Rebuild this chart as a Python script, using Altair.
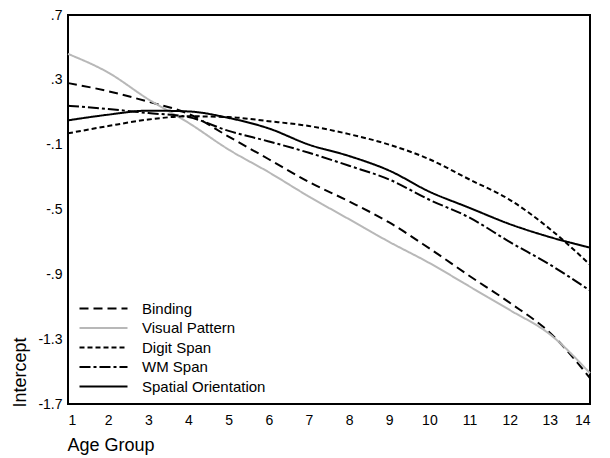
import altair as alt
import pandas as pd

age = list(range(1, 15))
series_names = ["Binding", "Visual Pattern", "Digit Span", "WM Span", "Spatial Orientation"]
binding = [0.28, 0.23, 0.165, 0.09, -0.05, -0.19, -0.33, -0.45, -0.58, -0.74, -0.91, -1.075, -1.26, -1.54]
visual = [0.46, 0.345, 0.18, 0.035, -0.13, -0.27, -0.42, -0.56, -0.70, -0.83, -0.975, -1.12, -1.27, -1.51]
digit = [-0.03, 0.015, 0.055, 0.075, 0.07, 0.045, 0.015, -0.035, -0.10, -0.19, -0.315, -0.44, -0.62, -0.84]
wm = [0.14, 0.12, 0.095, 0.07, -0.015, -0.08, -0.15, -0.23, -0.315, -0.44, -0.55, -0.70, -0.84, -1.0]
spatial = [0.05, 0.085, 0.11, 0.105, 0.065, 0.0, -0.10, -0.17, -0.26, -0.39, -0.49, -0.59, -0.67, -0.735]
y_ticks = [0.7, 0.3, -0.1, -0.5, -0.9, -1.3, -1.7]

colors = ["#000000", "#b8b8b8", "#000000", "#000000", "#000000"]
dashes = [[9, 5], [1, 0], [5, 3], [11, 3, 3, 3], [1, 0]]

rows = []
for name, vals in zip(series_names, [binding, visual, digit, wm, spatial]):
    for a, v in zip(age, vals):
        rows.append({"Age": a, "Intercept": v, "Series": name})
df = pd.DataFrame(rows)

FONT = "Liberation Sans"

leg = alt.Legend(
    title=None, orient="none", legendX=7, legendY=286,
    symbolType="M-1,0H15", symbolSize=36, symbolStrokeWidth=2,
    labelFontSize=15, labelFont=FONT, labelColor="#000000", labelOffset=52,
    rowPadding=3.5, padding=0,
)

chart = alt.Chart(df).mark_line(interpolate="monotone", strokeWidth=2).encode(
    x=alt.X("Age:Q", scale=alt.Scale(domain=[1, 14], nice=False, zero=False),
            axis=alt.Axis(values=age, title="Age Group", ticks=False, domain=False, grid=False,
                          labelFontSize=14, labelPadding=9, labelFont=FONT, labelColor="#000000",
                          titleFontSize=18, titleFont=FONT, titleFontWeight="normal", titleColor="#000000",
                          titleAnchor="start", titleAlign="left", titleX=-1, titleY=41,
                          titleBaseline="middle")),
    y=alt.Y("Intercept:Q", scale=alt.Scale(domain=[-1.7, 0.7], nice=False, zero=False),
            axis=alt.Axis(values=y_ticks, title="Intercept", ticks=False, domain=False, grid=False,
                          labelExpr="replace(datum.value + '', '0.', '.')",
                          labelFontSize=14, labelPadding=6, labelFont=FONT, labelColor="#000000",
                          titleFontSize=18, titleFont=FONT, titleFontWeight="normal", titleColor="#000000",
                          titleAngle=270, titleAlign="left", titleBaseline="middle",
                          titleX=-48, titleY=392)),
    color=alt.Color("Series:N", scale=alt.Scale(domain=series_names, range=colors), legend=leg),
    strokeDash=alt.StrokeDash("Series:N", scale=alt.Scale(domain=series_names, range=dashes), legend=leg),
).properties(
    width=522, height=389,
    autosize=alt.AutoSizeParams(type="none"),
    padding={"left": 60, "top": 7, "right": 12, "bottom": 52},
).configure_view(stroke="#000000", strokeWidth=2)

chart.save("out.html", embed_options={"renderer": "svg", "actions": False})
